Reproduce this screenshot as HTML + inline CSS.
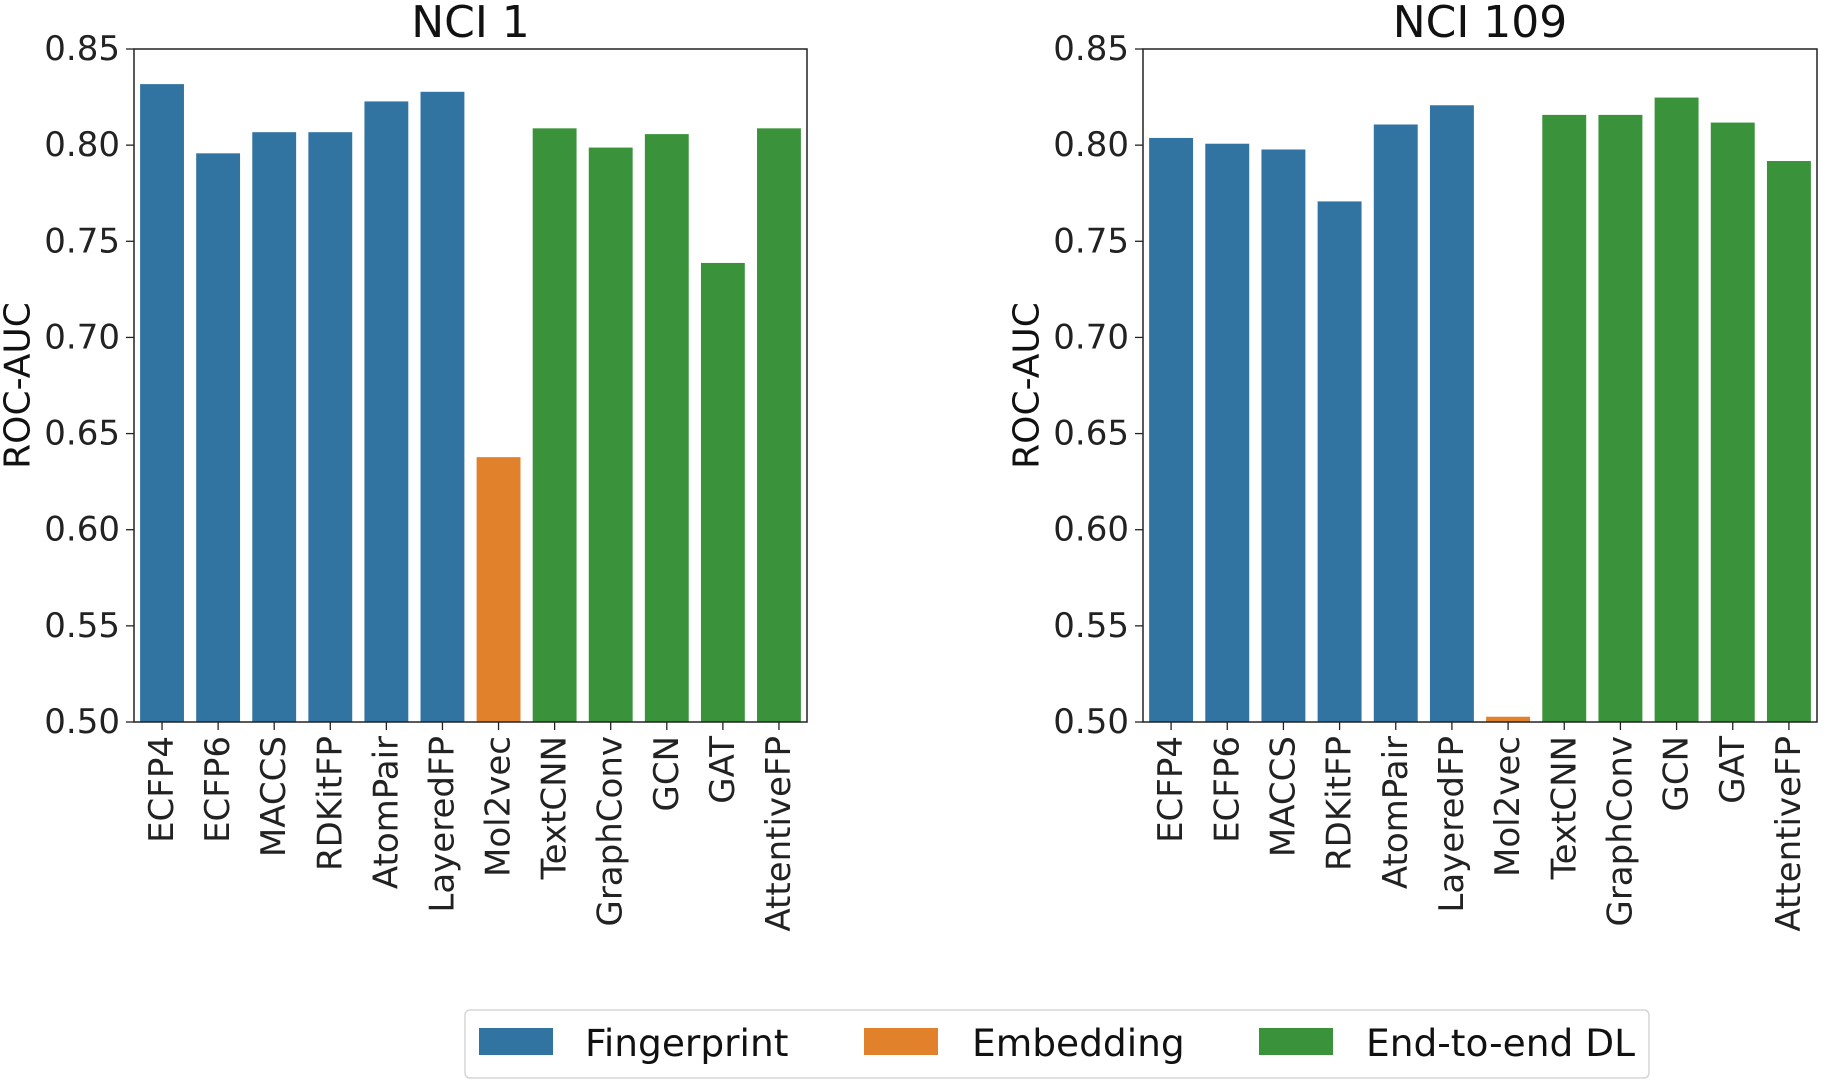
<!DOCTYPE html>
<html><head><meta charset="utf-8"><style>
html,body{margin:0;padding:0;background:#fff;}
svg{display:block;font-family:"DejaVu Sans","Liberation Sans",sans-serif;}
</style></head><body>
<svg id="chart" width="1823" height="1085" viewBox="0 0 1823 1085"></svg>
<script>
const categories = ["ECFP4","ECFP6","MACCS","RDKitFP","AtomPair","LayeredFP","Mol2vec","TextCNN","GraphConv","GCN","GAT","AttentiveFP"];
const groups = ["fp","fp","fp","fp","fp","fp","emb","dl","dl","dl","dl","dl"];
const nci1Values = [0.832,0.796,0.807,0.807,0.823,0.828,0.638,0.809,0.799,0.806,0.739,0.809];
const nci109Values = [0.804,0.801,0.798,0.771,0.811,0.821,0.503,0.816,0.816,0.825,0.812,0.792];
const yTicks = [0.50,0.55,0.60,0.65,0.70,0.75,0.80,0.85];
const yTickLabels = ["0.50","0.55","0.60","0.65","0.70","0.75","0.80","0.85"];
const legendLabels = ["Fingerprint","Embedding","End-to-end DL"];

const colors = {fp:"#3274a1", emb:"#e1812c", dl:"#3a923a"};
const svg = document.getElementById('chart');
const NS = "http://www.w3.org/2000/svg";
function mk(tag, attrs, parent){
  const e = document.createElementNS(NS, tag);
  for (const k in attrs) e.setAttribute(k, attrs[k]);
  (parent||svg).appendChild(e);
  return e;
}
const plotTop = 49, plotBottom = 722, yMin = 0.5, yMax = 0.85;
function yScale(v){ return plotBottom - (v - yMin)/(yMax - yMin)*(plotBottom - plotTop); }

function panel(left, right, title, values, key){
  const g = mk('g', {});
  
  
  const slot = (right - left)/categories.length;
  const xScale = i => left + slot*(i + 0.5);
  values.forEach((v, i) => {
    const w = slot*0.8;
    const r = mk('rect', {x: xScale(i) - w/2, y: yScale(v), width: w, height: plotBottom - yScale(v), fill: colors[groups[i]], stroke:"#ffffff", "stroke-width":1}, g);
    
    
    mk('line', {x1: xScale(i), x2: xScale(i), y1: plotBottom, y2: plotBottom + 8, stroke:"#222", "stroke-width":1.3}, g);
    const t = mk('text', {x: 0, y: 0, "font-size": 34, fill:"#222", "text-anchor":"end", "dominant-baseline":"central",
      transform:`translate(${xScale(i)},${plotBottom + 14}) rotate(-90)`}, g);
    t.textContent = categories[i];
    
    
  });
  yTicks.forEach((v, i) => {
    const y = yScale(v);
    mk('line', {x1: left - 8, x2: left, y1: y, y2: y, stroke:"#222", "stroke-width":1.3}, g);
    const t = mk('text', {x: left - 14, y: y, "font-size": 34, fill:"#222", "text-anchor":"end", "dominant-baseline":"central"}, g);
    t.textContent = yTickLabels[i];
    
    
  });
  const frame = mk('rect', {x: left, y: plotTop, width: right - left, height: plotBottom - plotTop, fill:"none", stroke:"#222", "stroke-width":1.5}, g);
  
  
  const tt = mk('text', {x: (left + right)/2, y: 37, "font-size": 44, fill:"#111", "text-anchor":"middle"}, g);
  tt.textContent = title;
  
  
  const yl = mk('text', {x: 0, y: 0, "font-size": 36, fill:"#111", "text-anchor":"middle", "dominant-baseline":"central",
    transform:`translate(${left - 116},${(plotTop + plotBottom)/2}) rotate(-90)`}, g);
  yl.textContent = "ROC-AUC";
  
  
}
panel(134, 807, "NCI 1", nci1Values, "nci1");
panel(1143, 1817, "NCI 109", nci109Values, "nci109");

const lg = mk('g', {});


mk('rect', {x: 465, y: 1010, width: 1184, height: 68, rx: 5, fill:"#fff", stroke:"#d6d6d6", "stroke-width":1.5}, lg);
const patchX = [479, 864, 1259];
const textX = [585, 972, 1366];
const keys = ["fp","emb","dl"];
legendLabels.forEach((lab, i) => {
  const p = mk('rect', {x: patchX[i], y: 1028, width: 74, height: 27, fill: colors[keys[i]]}, lg);
  
  
  const t = mk('text', {x: textX[i], y: 1043, "font-size": 37.5, fill:"#111", "dominant-baseline":"central"}, lg);
  t.textContent = lab;
  
  
});
</script>
</body></html>
